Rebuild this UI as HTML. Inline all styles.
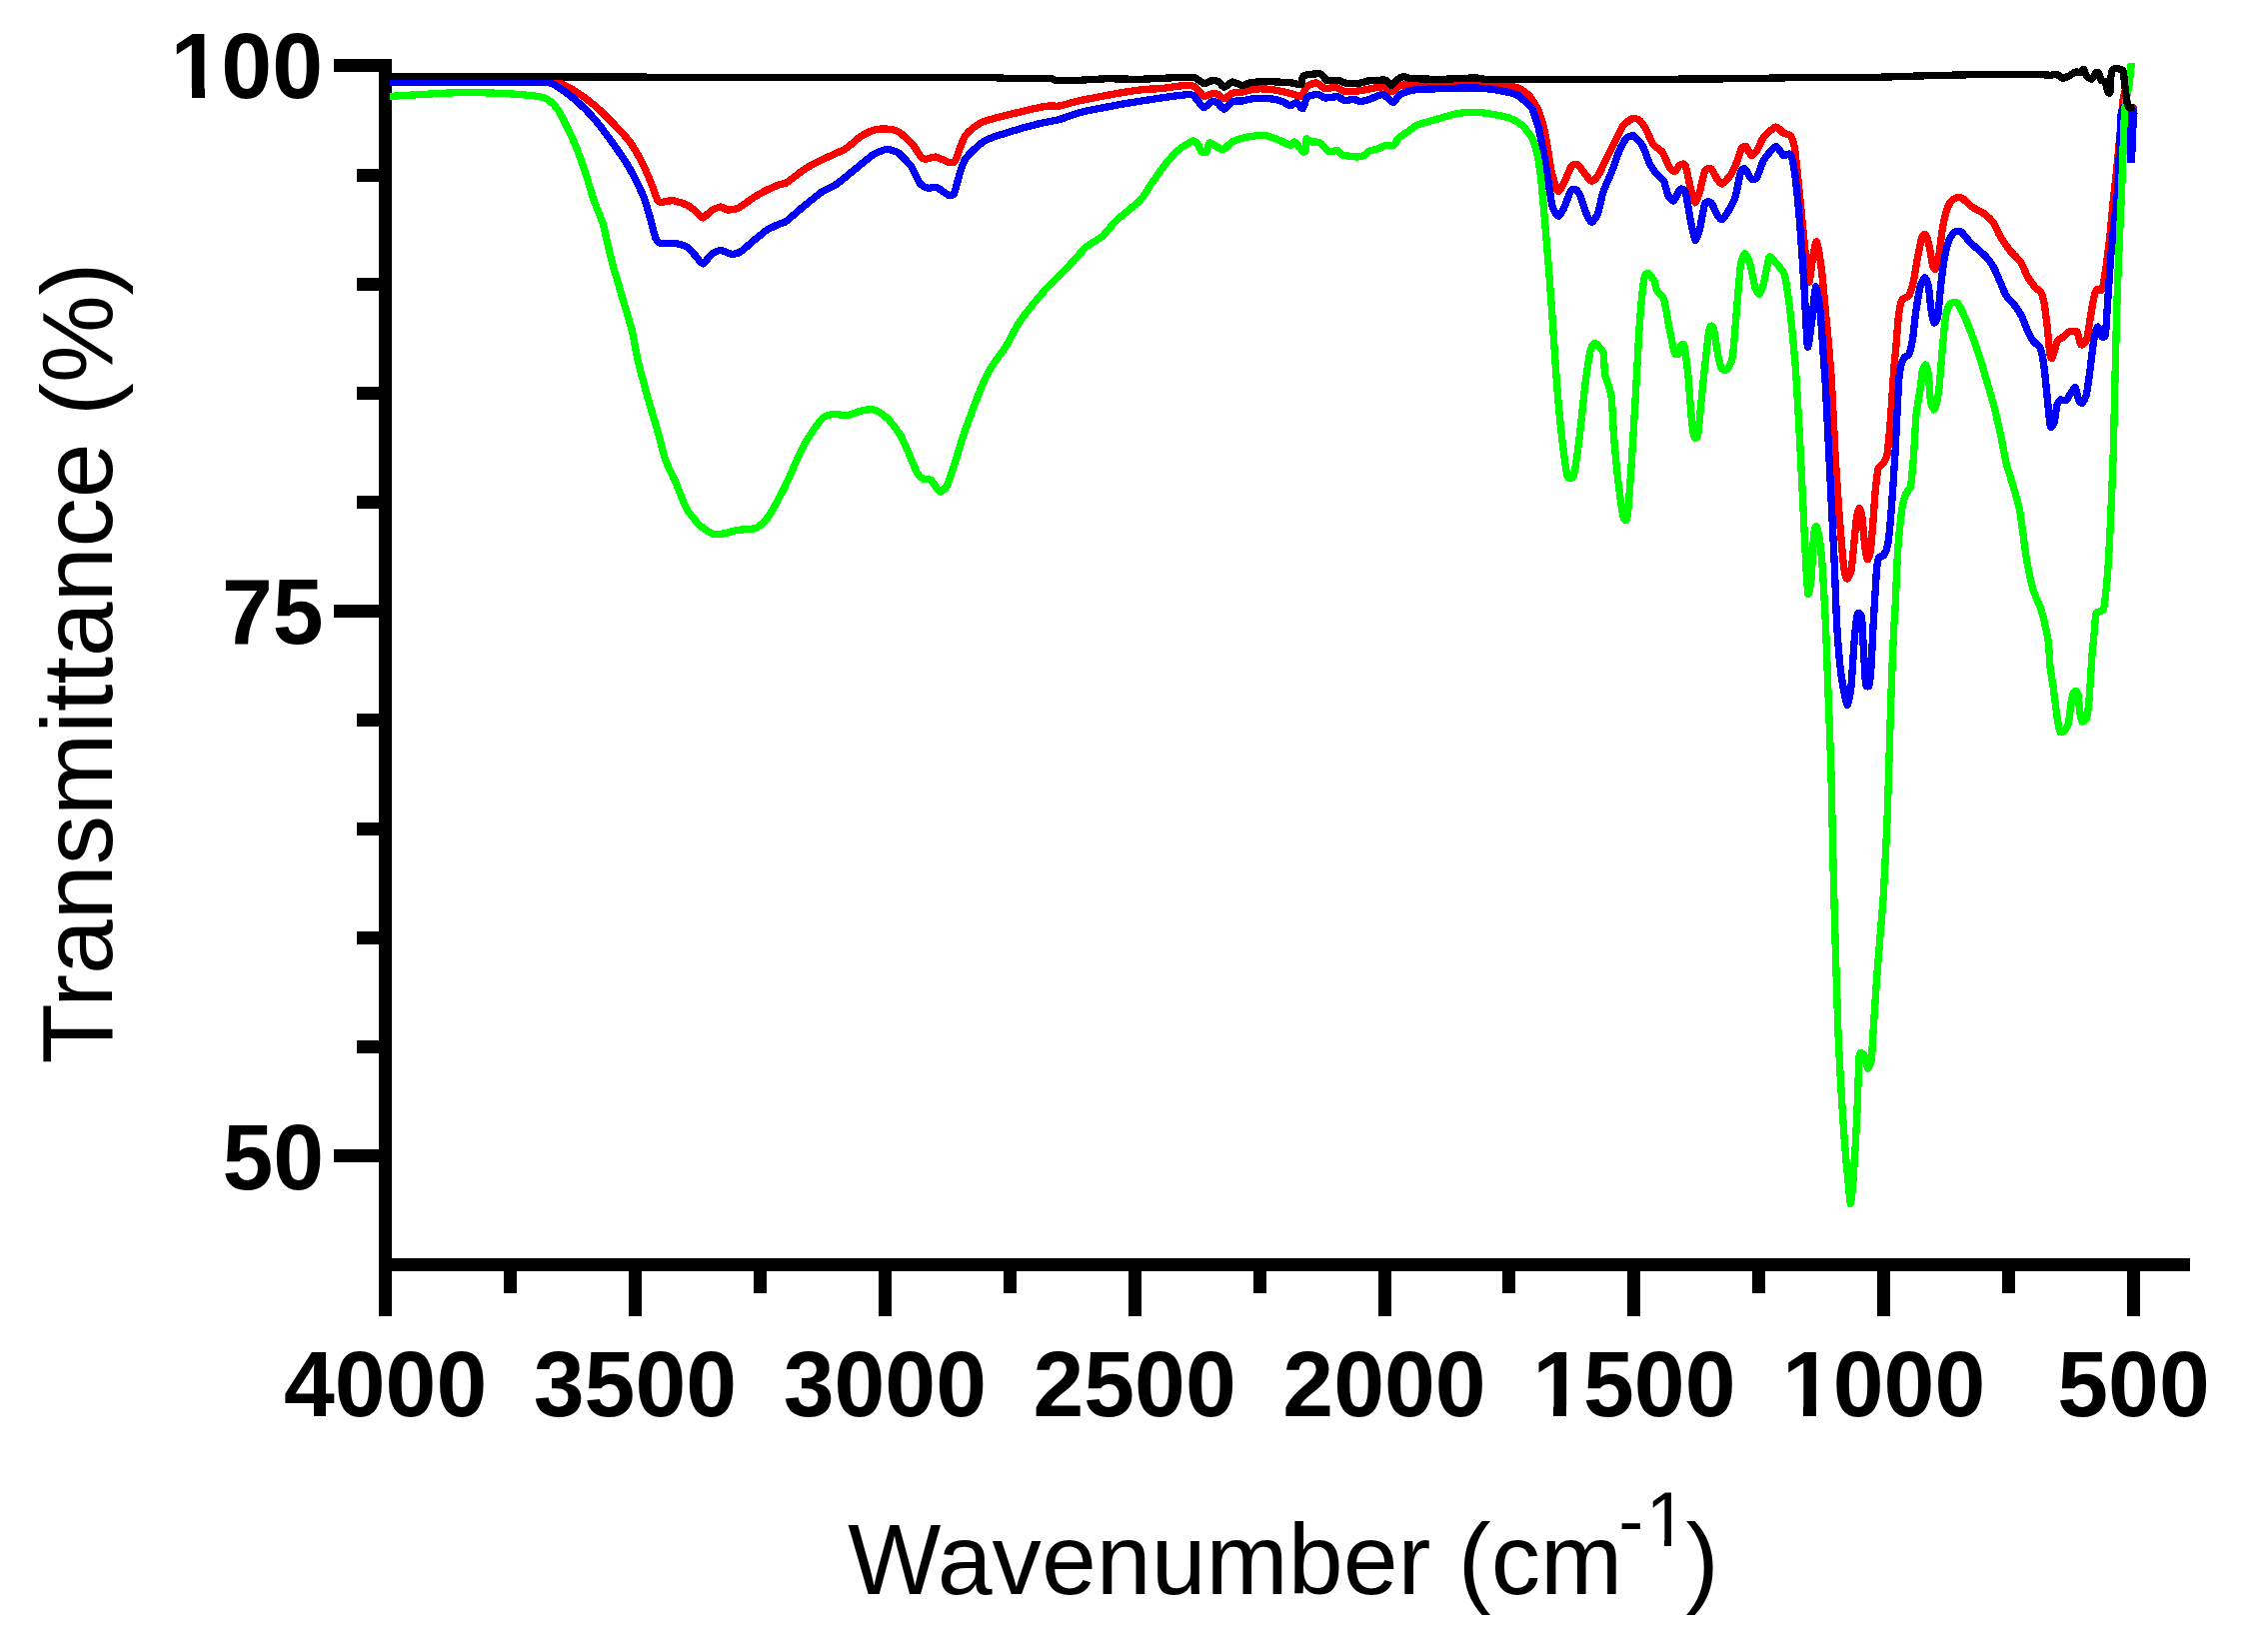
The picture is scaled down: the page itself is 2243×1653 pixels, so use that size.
<!DOCTYPE html>
<html><head><meta charset="utf-8"><title>FTIR spectra</title>
<style>
html,body{margin:0;padding:0;background:#fff;}
body{width:2243px;height:1653px;overflow:hidden;}
svg{display:block;}
text{font-family:"Liberation Sans",sans-serif;fill:#000;}
.tick{font-weight:bold;font-size:91.4px;}
.ttl{font-size:100px;}
.crv{fill:none;stroke-width:7.3;stroke-linejoin:round;stroke-linecap:butt;}
</style></head><body>
<svg width="2243" height="1653" viewBox="0 0 2243 1653" shape-rendering="crispEdges">
<rect width="2243" height="1653" fill="#fff"/>

<g fill="#000">
<rect x="379.1" y="59" width="13" height="1257.8"/>
<rect x="379.1" y="1259" width="1812" height="12.8"/>
<rect x="333.9" y="59.0" width="47" height="13"/>
<rect x="356.8" y="169.0" width="24" height="13"/>
<rect x="356.8" y="278.0" width="24" height="13"/>
<rect x="356.8" y="387.0" width="24" height="13"/>
<rect x="356.8" y="496.0" width="24" height="13"/>
<rect x="333.9" y="605.0" width="47" height="13"/>
<rect x="356.8" y="714.0" width="24" height="13"/>
<rect x="356.8" y="823.0" width="24" height="13"/>
<rect x="356.8" y="932.0" width="24" height="13"/>
<rect x="356.8" y="1041.0" width="24" height="13"/>
<rect x="333.9" y="1150.0" width="47" height="13"/>
<rect x="504.0" y="1270" width="13" height="23.8"/>
<rect x="628.9" y="1270" width="13" height="46.8"/>
<rect x="753.9" y="1270" width="13" height="23.8"/>
<rect x="878.8" y="1270" width="13" height="46.8"/>
<rect x="1003.7" y="1270" width="13" height="23.8"/>
<rect x="1128.6" y="1270" width="13" height="46.8"/>
<rect x="1253.5" y="1270" width="13" height="23.8"/>
<rect x="1378.5" y="1270" width="13" height="46.8"/>
<rect x="1503.4" y="1270" width="13" height="23.8"/>
<rect x="1628.3" y="1270" width="13" height="46.8"/>
<rect x="1753.2" y="1270" width="13" height="23.8"/>
<rect x="1878.1" y="1270" width="13" height="46.8"/>
<rect x="2003.1" y="1270" width="13" height="23.8"/>
<rect x="2128.0" y="1270" width="13" height="46.8"/>
</g>
<g shape-rendering="crispEdges">
<path class="crv" stroke="#ff0000" d="M390.0,81.0C399.0,81.0 465.0,81.0 480.0,81.0C495.0,81.0 532.8,81.0 540.0,81.0C547.2,81.0 550.1,81.4 552.0,81.5C553.9,81.6 556.2,81.3 558.6,82.3C561.0,83.3 572.8,89.5 576.4,91.8C580.0,94.1 590.7,102.0 594.3,105.0C597.9,108.0 608.4,118.3 612.0,122.0C615.6,125.7 627.0,137.7 630.0,141.8C633.0,145.9 640.4,158.9 642.5,163.0C644.6,167.1 649.9,179.3 651.4,183.0C652.9,186.7 656.7,197.9 657.7,199.8C658.7,201.8 659.8,202.4 661.3,202.5C662.8,202.6 670.3,200.4 672.9,200.7C675.5,200.9 684.7,203.9 687.0,205.0C689.3,206.1 694.4,210.1 696.0,211.4C697.6,212.7 701.6,218.1 703.2,218.0C704.8,217.9 710.2,211.6 712.0,210.5C713.8,209.4 719.4,207.1 721.0,207.0C722.6,206.9 726.2,209.9 728.0,210.0C729.8,210.1 736.3,209.3 739.0,208.0C741.7,206.7 752.1,198.8 755.0,197.0C757.9,195.2 765.0,191.2 767.5,190.0C770.0,188.8 778.1,185.3 780.0,184.6C781.9,183.9 784.3,184.4 786.8,182.9C789.3,181.4 801.4,171.7 804.6,169.5C807.8,167.3 814.9,163.5 819.0,161.4C823.1,159.3 841.6,151.4 845.7,149.0C849.8,146.6 857.1,139.2 860.0,137.3C862.9,135.4 871.6,131.0 874.3,130.2C877.0,129.4 884.3,128.8 886.8,129.0C889.3,129.2 896.6,130.4 899.3,132.0C902.0,133.6 911.5,143.0 913.6,145.4C915.7,147.8 919.5,154.6 920.7,156.0C921.9,157.4 924.5,159.2 926.0,159.3C927.5,159.4 933.7,156.7 936.0,157.0C938.3,157.3 947.3,161.9 949.3,162.3C951.2,162.7 954.4,162.7 955.5,161.4C956.6,160.1 959.0,151.5 960.0,149.0C961.0,146.5 964.0,138.6 965.4,136.4C966.8,134.2 972.3,129.0 974.3,127.5C976.3,126.0 981.4,122.5 985.0,121.2C988.6,120.0 1003.9,116.1 1010.0,114.6C1016.1,113.1 1040.7,107.3 1045.7,106.4C1050.7,105.5 1056.4,106.6 1060.0,106.0C1063.6,105.4 1075.7,101.6 1081.4,100.4C1087.1,99.2 1110.7,94.7 1117.0,93.6C1123.3,92.5 1139.6,90.1 1144.0,89.6C1148.4,89.1 1157.3,89.0 1161.4,88.6C1165.5,88.2 1181.2,85.7 1184.6,85.5C1188.0,85.3 1193.4,85.7 1195.4,86.8C1197.4,87.9 1202.5,95.6 1204.3,96.2C1206.1,96.9 1211.8,93.8 1213.2,93.6C1214.6,93.4 1217.4,94.0 1218.6,94.5C1219.8,95.0 1223.4,99.0 1224.8,98.9C1226.2,98.8 1231.1,93.9 1232.9,93.2C1234.7,92.5 1240.4,92.5 1242.7,92.1C1245.0,91.7 1253.1,89.3 1256.0,89.1C1258.9,88.8 1268.4,89.1 1272.0,89.6C1275.6,90.0 1288.8,92.9 1291.8,93.6C1294.8,94.3 1300.0,97.0 1301.6,96.2C1303.2,95.5 1306.4,87.7 1307.9,86.4C1309.4,85.1 1315.0,82.7 1316.8,82.9C1318.6,83.1 1323.7,88.2 1325.7,88.6C1327.7,89.0 1334.4,87.0 1336.4,87.3C1338.4,87.6 1343.1,91.0 1345.4,91.4C1347.7,91.8 1356.9,91.2 1359.6,90.9C1362.3,90.6 1369.5,89.0 1372.0,88.6C1374.5,88.2 1382.5,86.5 1384.6,86.8C1386.7,87.1 1391.3,91.8 1392.7,91.8C1394.1,91.8 1397.5,87.1 1399.0,86.4C1400.5,85.7 1405.2,84.8 1407.9,84.6C1410.6,84.4 1418.9,84.4 1425.7,84.3C1432.5,84.2 1467.7,83.6 1475.7,83.8C1483.7,83.9 1501.6,85.0 1506.0,85.5C1510.4,86.0 1517.5,87.4 1520.0,88.5C1522.5,89.6 1528.7,94.3 1530.7,96.6C1532.7,98.9 1538.0,107.6 1539.6,111.8C1541.2,116.0 1545.6,132.7 1546.8,138.6C1548.0,144.5 1550.8,165.4 1552.0,170.7C1553.2,176.0 1557.1,190.0 1558.4,191.2C1559.7,192.5 1563.3,185.6 1564.6,183.2C1565.9,180.8 1570.5,168.9 1571.8,167.0C1573.1,165.1 1576.6,163.8 1578.0,164.5C1579.4,165.2 1584.6,172.6 1586.0,174.3C1587.4,176.0 1591.0,181.2 1592.3,181.4C1593.6,181.6 1597.3,178.0 1598.6,176.0C1599.9,174.0 1604.1,165.0 1605.7,161.8C1607.3,158.6 1612.8,147.6 1614.6,144.0C1616.4,140.4 1621.8,128.5 1623.6,126.0C1625.4,123.5 1630.9,119.6 1632.5,119.0C1634.1,118.4 1638.2,118.7 1639.6,119.8C1641.0,120.9 1645.4,127.1 1646.8,129.6C1648.2,132.1 1652.4,142.6 1654.0,144.8C1655.6,147.0 1661.3,149.8 1662.9,152.0C1664.5,154.2 1668.8,165.0 1670.0,167.0C1671.2,169.0 1674.3,171.8 1675.4,171.6C1676.5,171.4 1679.6,165.6 1680.7,165.0C1681.8,164.4 1684.9,163.0 1686.0,165.4C1687.1,167.8 1690.4,184.8 1691.4,188.6C1692.4,192.3 1695.0,202.6 1695.9,202.9C1696.8,203.2 1699.4,195.2 1700.4,192.0C1701.4,188.8 1704.5,173.0 1705.7,170.7C1706.9,168.4 1710.8,168.1 1712.0,169.0C1713.2,169.9 1717.1,178.1 1718.2,179.6C1719.3,181.1 1721.5,184.4 1722.7,184.0C1724.0,183.6 1729.3,178.0 1730.7,176.0C1732.1,174.0 1735.8,166.4 1737.0,163.6C1738.2,160.8 1741.3,150.1 1742.3,148.4C1743.3,146.7 1745.8,145.9 1746.8,146.6C1747.8,147.3 1750.9,155.1 1752.0,155.5C1753.1,155.9 1756.2,152.9 1757.5,151.0C1758.8,149.1 1762.7,139.2 1764.6,136.8C1766.5,134.4 1774.6,127.4 1776.6,127.0C1778.6,126.6 1782.8,132.3 1784.3,133.2C1785.8,134.1 1790.3,134.3 1791.4,135.9C1792.5,137.5 1794.8,144.4 1795.6,149.3C1796.4,154.2 1798.6,176.1 1799.5,185.0C1800.4,193.9 1803.7,228.9 1804.7,238.6C1805.7,248.3 1808.7,280.5 1809.6,282.3C1810.5,284.1 1813.0,260.4 1813.8,256.4C1814.5,252.4 1816.5,241.1 1817.3,242.0C1818.1,242.9 1820.9,258.6 1821.8,265.4C1822.7,272.2 1825.5,302.0 1826.2,310.0C1827.0,318.0 1828.9,337.6 1829.5,345.0C1830.1,352.4 1831.8,372.6 1832.5,383.6C1833.2,394.6 1835.3,442.5 1836.0,455.0C1836.7,467.5 1838.9,498.8 1839.6,508.6C1840.3,518.4 1842.6,546.6 1843.2,553.2C1843.8,559.8 1845.4,572.0 1845.9,574.6C1846.4,577.2 1847.7,579.4 1848.3,579.0C1848.9,578.6 1851.3,574.5 1852.0,571.0C1852.7,567.5 1854.2,549.6 1854.8,544.3C1855.3,538.9 1857.0,521.1 1857.5,517.5C1858.0,513.9 1859.7,508.6 1860.2,508.6C1860.7,508.6 1862.4,513.9 1862.9,517.5C1863.4,521.1 1865.0,540.1 1865.5,544.3C1866.0,548.5 1867.7,558.6 1868.2,559.5C1868.8,560.4 1870.5,556.5 1871.0,553.2C1871.5,549.9 1873.1,532.6 1873.6,526.4C1874.1,520.1 1875.7,496.4 1876.2,490.7C1876.8,485.0 1878.2,472.1 1879.0,469.3C1879.8,466.5 1883.4,464.4 1884.3,463.0C1885.2,461.6 1887.2,459.4 1887.9,455.0C1888.6,450.6 1890.7,428.2 1891.4,419.3C1892.1,410.4 1894.4,373.1 1895.0,365.7C1895.6,358.3 1896.6,350.6 1897.0,345.7C1897.4,340.8 1898.7,321.6 1899.3,317.0C1899.9,312.4 1901.8,302.1 1902.9,300.0C1904.0,297.9 1908.9,297.6 1910.0,295.7C1911.1,293.8 1913.4,285.3 1914.3,281.4C1915.2,277.5 1917.7,261.4 1918.6,257.0C1919.5,252.6 1922.1,239.2 1922.9,237.0C1923.7,234.8 1925.7,234.1 1926.4,235.0C1927.1,235.9 1929.3,242.6 1930.0,245.7C1930.7,248.8 1933.0,263.3 1933.6,265.7C1934.2,268.1 1935.8,269.9 1936.4,269.3C1937.0,268.7 1938.6,263.8 1939.3,260.0C1940.0,256.2 1942.2,236.0 1942.9,231.4C1943.6,226.8 1945.6,217.2 1946.4,214.3C1947.2,211.4 1950.3,203.6 1951.4,202.0C1952.5,200.4 1955.8,198.3 1957.0,197.9C1958.2,197.5 1961.3,197.4 1962.9,198.3C1964.5,199.2 1970.6,205.4 1972.9,207.0C1975.2,208.6 1983.6,212.7 1985.7,214.3C1987.8,215.9 1992.7,220.6 1994.3,222.9C1995.9,225.2 1999.7,234.2 2001.4,237.0C2003.1,239.8 2009.4,248.9 2011.4,251.4C2013.4,253.9 2019.7,259.4 2021.4,262.0C2023.1,264.6 2027.2,274.5 2028.6,277.0C2030.0,279.5 2034.4,285.4 2035.7,287.0C2037.0,288.6 2041.1,291.3 2042.0,292.9C2042.9,294.5 2044.4,299.8 2045.0,302.9C2045.6,306.0 2047.3,319.3 2047.9,324.3C2048.5,329.3 2050.2,349.5 2050.7,352.9C2051.2,356.3 2052.4,358.9 2052.9,358.6C2053.4,358.3 2055.1,351.8 2055.7,350.0C2056.3,348.2 2057.7,342.0 2058.6,340.7C2059.5,339.4 2063.2,337.9 2064.3,337.0C2065.4,336.1 2068.6,332.5 2070.0,332.0C2071.4,331.5 2076.8,330.8 2077.9,332.0C2079.0,333.2 2080.8,343.1 2081.4,344.3C2082.0,345.5 2083.7,344.9 2084.3,344.3C2085.0,343.7 2087.2,341.3 2087.9,338.6C2088.6,335.9 2090.7,321.2 2091.4,317.0C2092.1,312.8 2094.3,299.8 2095.0,297.0C2095.7,294.2 2097.1,290.0 2097.9,289.3C2098.7,288.6 2102.1,291.5 2102.9,290.0C2103.7,288.5 2105.1,279.4 2105.9,274.3C2106.7,269.2 2109.8,245.7 2110.6,238.6C2111.4,231.5 2113.5,208.1 2114.0,202.9C2114.5,197.7 2115.3,191.3 2115.8,187.0C2116.3,182.7 2117.8,168.5 2118.6,160.0C2119.4,151.5 2123.2,108.9 2123.8,102.4C2124.4,95.9 2124.7,96.1 2125.0,95.0C2125.3,93.9 2126.1,90.4 2126.4,91.0C2126.7,91.6 2127.5,99.4 2127.9,101.0C2128.3,102.6 2129.4,106.3 2130.0,107.0C2130.6,107.7 2133.8,106.8 2134.3,107.6C2134.8,108.4 2134.9,114.2 2135.0,114.9"/>
<path class="crv" stroke="#0000ff" d="M390.0,82.0C399.0,82.0 464.4,82.0 480.0,82.0C495.6,82.0 538.1,81.8 546.0,82.3C553.9,82.8 555.6,85.5 558.6,87.3C561.6,89.1 572.8,97.6 576.4,100.7C580.0,103.8 590.7,114.5 594.3,118.6C597.9,122.7 608.4,136.8 612.0,141.8C615.6,146.8 627.0,163.4 630.0,168.6C633.0,173.8 640.5,189.0 642.5,193.6C644.5,198.2 648.3,210.5 649.6,215.0C650.9,219.5 654.7,235.3 655.9,238.2C657.1,241.1 659.4,243.1 661.3,243.6C663.2,244.1 672.0,242.9 674.6,243.2C677.2,243.5 684.9,245.7 687.0,247.0C689.1,248.3 694.4,254.3 696.0,256.0C697.6,257.7 701.6,264.2 703.2,264.0C704.8,263.8 710.2,255.7 712.0,254.3C713.8,252.9 719.0,250.4 721.0,250.4C723.0,250.4 729.8,254.1 731.8,254.3C733.8,254.5 738.4,253.4 740.7,252.0C743.0,250.6 752.3,242.2 755.0,240.0C757.7,237.8 765.0,231.6 767.5,230.0C770.0,228.4 778.1,224.9 780.0,224.0C781.9,223.1 784.3,223.1 786.8,221.2C789.3,219.4 801.0,208.9 804.6,206.0C808.2,203.1 819.3,194.0 822.5,191.8C825.7,189.6 833.4,186.6 836.8,184.3C840.2,182.0 852.6,171.6 856.4,168.6C860.1,165.6 871.2,156.2 874.3,154.3C877.4,152.4 885.2,149.4 887.7,149.3C890.2,149.2 896.9,151.7 899.3,153.4C901.7,155.2 909.7,163.8 911.8,166.8C913.9,169.8 919.0,181.6 920.7,183.8C922.4,185.9 927.1,187.8 928.8,188.2C930.4,188.6 934.7,186.6 936.8,187.3C938.9,188.0 947.5,194.8 949.3,195.4C951.1,196.0 953.5,195.7 954.6,193.6C955.7,191.5 958.9,177.4 960.0,174.0C961.1,170.6 964.0,162.0 965.4,159.6C966.8,157.2 972.2,151.8 974.3,149.8C976.4,147.8 983.2,141.8 986.8,140.0C990.4,138.2 1004.8,133.6 1010.0,132.0C1015.2,130.4 1033.6,125.2 1038.6,124.0C1043.6,122.8 1055.7,120.7 1060.0,119.5C1064.3,118.3 1075.7,113.7 1081.4,112.3C1087.1,110.9 1110.7,106.4 1117.0,105.2C1123.3,104.0 1139.6,101.4 1144.0,100.7C1148.4,100.0 1157.3,98.6 1161.4,98.0C1165.5,97.4 1181.4,95.3 1184.6,95.0C1187.8,94.7 1191.6,94.2 1193.6,95.4C1195.6,96.7 1202.4,106.9 1204.3,107.5C1206.2,108.1 1210.9,102.0 1212.3,101.6C1213.7,101.2 1217.3,102.6 1218.6,103.4C1219.8,104.2 1223.4,109.5 1224.8,109.3C1226.2,109.1 1231.1,102.4 1232.9,101.6C1234.7,100.8 1240.6,101.3 1242.7,101.0C1244.8,100.7 1251.4,98.8 1254.3,98.6C1257.2,98.4 1269.1,98.6 1272.0,98.9C1274.9,99.2 1281.0,100.9 1282.9,101.6C1284.8,102.3 1289.5,105.6 1290.9,105.7C1292.3,105.8 1295.8,102.2 1297.0,102.5C1298.2,102.8 1302.3,109.3 1303.4,108.8C1304.5,108.2 1306.4,98.4 1307.9,97.0C1309.4,95.6 1316.8,94.4 1318.6,94.5C1320.4,94.6 1323.7,97.8 1325.7,98.0C1327.7,98.2 1336.2,96.5 1338.2,96.8C1340.2,97.1 1343.8,100.5 1345.4,100.7C1347.0,101.0 1352.7,99.2 1354.3,99.3C1355.9,99.4 1359.6,101.7 1361.4,101.6C1363.2,101.5 1369.8,99.3 1372.0,98.6C1374.2,97.9 1381.6,94.1 1383.8,94.5C1385.9,94.9 1391.9,102.5 1393.6,102.5C1395.3,102.5 1398.6,95.8 1400.7,94.5C1402.8,93.2 1410.7,90.6 1415.0,90.0C1419.3,89.4 1437.5,88.8 1443.6,88.6C1449.7,88.4 1470.4,87.8 1475.7,87.9C1481.0,88.0 1492.9,89.3 1497.0,90.0C1501.1,90.7 1514.1,93.5 1516.8,94.5C1519.5,95.5 1522.4,98.6 1524.0,100.0C1525.6,101.4 1530.9,105.2 1532.5,108.2C1534.1,111.2 1538.2,123.7 1539.6,129.6C1541.0,135.5 1545.5,159.3 1546.8,167.0C1548.1,174.7 1551.8,201.5 1553.0,206.4C1554.2,211.3 1558.1,216.1 1559.3,216.2C1560.5,216.4 1563.3,210.8 1564.6,208.2C1565.8,205.6 1570.6,192.2 1571.8,190.4C1573.0,188.6 1576.0,189.3 1577.0,190.0C1578.0,190.7 1580.6,195.1 1581.6,197.5C1582.6,199.9 1585.9,211.1 1587.0,213.6C1588.1,216.1 1591.1,222.5 1592.3,222.5C1593.5,222.5 1597.4,216.7 1598.6,213.6C1599.8,210.5 1602.5,196.3 1603.9,192.0C1605.3,187.7 1611.3,174.8 1612.9,170.7C1614.5,166.6 1618.6,154.2 1620.0,151.0C1621.4,147.8 1625.6,140.1 1627.0,138.6C1628.4,137.1 1632.7,135.2 1634.3,135.9C1635.9,136.6 1641.6,142.9 1643.2,145.7C1644.8,148.5 1649.0,160.7 1650.4,163.6C1651.8,166.5 1656.1,172.5 1657.5,174.3C1658.9,176.1 1663.4,179.3 1664.6,181.4C1665.8,183.5 1668.0,193.7 1669.0,195.7C1670.0,197.7 1673.3,201.6 1674.5,201.0C1675.7,200.4 1679.5,190.4 1680.7,189.5C1681.9,188.6 1684.9,188.9 1686.0,192.0C1687.1,195.1 1690.4,215.9 1691.4,220.7C1692.4,225.5 1695.0,239.5 1695.9,240.4C1696.8,241.3 1699.4,233.3 1700.4,229.6C1701.4,225.9 1704.5,206.4 1705.7,203.8C1706.9,201.1 1710.8,201.7 1712.0,202.9C1713.2,204.1 1717.1,213.7 1718.2,215.4C1719.3,217.1 1721.5,220.3 1722.7,219.8C1723.9,219.3 1728.5,212.2 1729.8,210.0C1731.1,207.8 1734.8,201.2 1736.0,197.5C1737.2,193.8 1740.4,175.3 1741.4,172.5C1742.4,169.7 1744.8,168.4 1745.9,169.0C1747.0,169.6 1750.8,177.9 1752.0,178.8C1753.2,179.6 1756.2,179.8 1757.5,177.9C1758.8,176.0 1762.7,163.1 1764.6,160.0C1766.5,156.9 1774.6,147.0 1776.6,146.6C1778.6,146.2 1782.8,154.7 1784.3,155.5C1785.8,156.3 1790.2,152.5 1791.4,154.6C1792.6,156.7 1795.0,169.4 1795.9,176.0C1796.8,182.6 1799.5,210.0 1800.4,220.7C1801.3,231.4 1804.0,270.6 1804.8,283.2C1805.6,295.8 1807.6,343.4 1808.4,347.0C1809.2,350.6 1812.1,325.0 1812.9,319.0C1813.7,313.0 1815.6,287.7 1816.4,286.8C1817.2,285.9 1820.1,303.2 1820.9,310.0C1821.7,316.8 1823.7,347.6 1824.2,355.0C1824.7,362.4 1825.6,373.6 1826.2,383.6C1826.8,393.6 1829.1,440.7 1829.8,455.0C1830.5,469.3 1832.8,514.9 1833.4,526.4C1834.0,537.9 1835.1,559.9 1835.5,570.0C1835.9,580.1 1837.2,616.6 1837.8,627.0C1838.4,637.4 1840.8,665.9 1841.8,673.7C1842.8,681.5 1846.9,703.9 1847.9,705.2C1848.9,706.5 1851.2,693.5 1851.9,687.0C1852.6,680.5 1854.6,647.4 1855.2,640.3C1855.8,633.2 1857.4,618.9 1857.9,616.2C1858.4,613.5 1859.4,613.2 1859.9,613.5C1860.4,613.8 1862.1,614.9 1862.6,618.9C1863.1,622.9 1864.2,647.2 1864.6,653.7C1865.0,660.2 1866.1,681.2 1866.6,684.4C1867.1,687.6 1869.4,687.5 1869.9,685.8C1870.4,684.1 1871.6,672.9 1872.0,667.0C1872.4,661.1 1873.6,635.0 1874.0,627.0C1874.4,619.0 1876.1,592.5 1876.4,586.8C1876.8,581.1 1877.2,572.9 1877.5,570.0C1877.8,567.1 1879.1,559.1 1879.8,557.7C1880.5,556.3 1883.4,557.2 1884.3,555.9C1885.2,554.6 1888.0,549.0 1888.8,544.3C1889.5,539.6 1891.6,517.5 1892.3,508.6C1893.0,499.7 1895.2,467.5 1895.9,455.0C1896.6,442.5 1899.0,392.4 1899.5,383.6C1900.0,374.8 1900.9,369.6 1901.4,367.0C1902.0,364.4 1904.1,359.2 1905.0,357.9C1905.9,356.6 1909.1,356.2 1910.0,354.3C1910.9,352.4 1912.9,343.0 1913.6,338.6C1914.3,334.2 1916.2,315.3 1917.0,310.0C1917.8,304.7 1920.5,288.9 1921.4,285.7C1922.3,282.5 1924.9,277.9 1925.7,277.9C1926.5,277.9 1928.7,282.5 1929.3,285.7C1929.9,288.9 1931.4,306.3 1932.0,310.0C1932.6,313.7 1934.3,322.2 1935.0,322.9C1935.7,323.6 1938.0,320.4 1938.6,317.0C1939.2,313.6 1940.8,294.3 1941.4,288.6C1942.0,282.9 1944.1,264.9 1945.0,260.0C1945.9,255.1 1948.9,242.8 1950.0,240.0C1951.1,237.2 1954.5,232.8 1955.7,232.0C1956.9,231.2 1960.4,230.9 1962.0,232.0C1963.6,233.1 1969.0,240.5 1971.4,242.9C1973.8,245.3 1983.4,253.3 1985.7,255.7C1988.0,258.1 1992.7,264.3 1994.3,267.0C1995.9,269.7 2000.1,280.0 2001.4,282.9C2002.7,285.8 2005.6,293.4 2007.0,295.7C2008.4,298.0 2014.1,303.6 2015.7,305.7C2017.3,307.8 2021.6,314.4 2022.9,317.0C2024.2,319.6 2027.5,329.0 2028.6,331.4C2029.7,333.8 2033.0,339.7 2034.3,341.4C2035.6,343.1 2040.3,346.0 2041.4,348.6C2042.5,351.2 2044.4,362.9 2045.0,367.0C2045.6,371.1 2047.0,385.8 2047.4,390.0C2047.8,394.2 2048.9,404.9 2049.3,408.6C2049.7,412.3 2050.8,425.6 2051.4,427.0C2052.0,428.4 2054.3,425.0 2055.0,422.9C2055.7,420.8 2057.3,408.0 2057.9,405.7C2058.5,403.4 2060.5,400.5 2061.4,400.0C2062.3,399.5 2065.9,401.4 2067.0,400.7C2068.1,400.0 2071.1,394.2 2072.0,392.9C2072.9,391.6 2075.6,387.0 2076.4,387.9C2077.2,388.8 2079.3,399.9 2080.0,401.4C2080.7,402.9 2082.9,403.5 2083.6,402.9C2084.3,402.3 2086.5,397.5 2087.0,395.7C2087.5,393.9 2088.6,387.9 2089.0,385.0C2089.4,382.1 2090.8,371.6 2091.4,367.0C2092.0,362.4 2094.3,342.6 2095.0,338.6C2095.7,334.6 2097.8,327.2 2098.6,327.0C2099.4,326.8 2102.1,336.3 2102.9,337.0C2103.7,337.7 2105.8,337.7 2106.4,334.3C2107.0,330.9 2108.0,311.0 2108.6,302.9C2109.2,294.8 2111.1,262.9 2112.0,252.9C2112.9,242.9 2116.6,209.5 2117.3,202.9C2118.0,196.3 2118.4,192.6 2118.7,187.0C2119.0,181.4 2120.4,154.2 2120.7,147.0C2121.0,139.8 2121.7,118.8 2122.0,115.0C2122.3,111.2 2123.1,109.4 2123.5,108.6C2123.9,107.8 2125.8,106.9 2126.5,106.8C2127.2,106.7 2130.2,106.7 2131.0,107.2C2131.8,107.7 2133.9,109.7 2134.2,111.6C2134.5,113.5 2134.3,124.1 2134.2,126.0C2134.1,127.9 2133.4,128.7 2133.3,131.0C2133.2,133.3 2133.4,146.8 2133.3,149.0C2133.2,151.2 2132.5,151.6 2132.4,153.0C2132.3,154.4 2132.4,162.4 2132.4,163.4"/>
<path class="crv" stroke="#0000ff" d="M2131.8,111 L2131.8,163.4"/>
<path class="crv" stroke="#00ff00" d="M390.0,96.4C396.7,96.0 445.3,93.0 456.8,92.7C468.3,92.4 496.6,93.2 505.0,93.6C513.4,94.0 536.2,96.1 540.7,96.8C545.2,97.5 547.8,99.3 549.6,100.7C551.4,102.1 556.8,107.8 558.6,110.5C560.4,113.2 565.7,123.8 567.5,127.5C569.3,131.2 574.6,142.6 576.4,147.0C578.2,151.4 583.6,166.6 585.4,172.0C587.2,177.4 592.5,195.5 594.3,200.7C596.1,205.9 601.4,217.9 603.2,224.0C605.0,230.1 610.6,255.8 612.0,261.4C613.4,267.0 616.2,275.6 617.5,280.0C618.8,284.4 623.5,300.6 625.0,305.7C626.5,310.8 631.2,326.0 632.5,331.4C633.8,336.8 636.3,352.4 637.9,359.3C639.5,366.2 646.7,393.1 648.6,400.0C650.5,406.9 655.3,421.9 657.0,427.9C658.7,433.9 663.8,454.4 665.7,460.0C667.6,465.6 674.3,478.7 676.4,483.6C678.5,488.5 684.6,505.1 687.0,509.3C689.4,513.5 697.4,522.9 700.0,525.4C702.6,527.9 710.5,533.1 712.9,534.0C715.3,534.9 721.0,534.4 723.6,534.0C726.2,533.6 735.4,530.8 738.6,530.3C741.8,529.8 752.9,529.6 755.7,528.6C758.5,527.6 764.3,522.6 766.4,520.0C768.5,517.4 774.9,506.8 777.0,502.9C779.1,499.0 786.0,485.5 787.9,481.4C789.8,477.3 794.5,466.1 796.4,462.0C798.3,457.9 804.4,445.0 807.0,440.7C809.6,436.4 819.4,421.9 822.0,419.3C824.6,416.7 830.3,415.0 832.9,414.6C835.5,414.2 844.9,415.8 847.9,415.4C850.9,415.0 860.1,411.2 862.9,410.7C865.7,410.2 873.1,409.4 875.7,410.3C878.3,411.2 886.0,416.7 888.6,419.3C891.2,421.9 899.3,432.8 901.4,436.4C903.5,440.0 908.4,452.1 910.0,455.7C911.6,459.3 916.1,470.5 917.5,472.9C918.9,475.3 922.5,478.6 923.9,479.3C925.3,480.1 930.1,479.5 931.4,480.4C932.7,481.3 935.8,486.7 936.8,487.9C937.8,489.1 939.9,492.2 941.0,492.0C942.1,491.8 946.1,488.5 947.5,485.7C948.9,482.9 953.4,469.2 955.0,464.3C956.6,459.4 961.9,441.5 963.6,436.4C965.3,431.3 970.1,418.0 972.0,412.9C973.9,407.8 981.0,389.5 982.9,385.0C984.8,380.5 989.0,371.8 991.4,367.9C993.8,364.0 1003.8,350.5 1006.4,346.4C1009.0,342.3 1014.9,330.5 1017.0,327.0C1019.1,323.5 1025.0,315.1 1027.9,311.4C1030.8,307.7 1042.0,294.1 1045.7,290.0C1049.5,285.9 1061.3,274.7 1065.4,270.4C1069.5,266.1 1083.0,250.4 1086.8,247.0C1090.5,243.6 1099.9,239.1 1102.9,236.4C1105.9,233.7 1113.2,224.0 1117.0,220.4C1120.8,216.8 1136.9,204.4 1140.4,200.7C1144.0,196.9 1149.9,186.7 1152.5,182.9C1155.1,179.2 1164.1,166.5 1166.8,163.2C1169.5,159.9 1176.6,152.0 1179.3,149.8C1182.0,147.6 1191.6,141.3 1193.6,140.9C1195.6,140.5 1198.2,144.3 1199.0,145.4C1199.8,146.5 1200.8,150.9 1201.6,151.6C1202.4,152.3 1206.1,153.4 1207.0,152.5C1207.9,151.6 1208.9,143.0 1210.5,142.7C1212.1,142.4 1220.8,149.9 1223.0,149.8C1225.2,149.7 1230.5,143.1 1232.9,141.8C1235.3,140.6 1243.8,137.9 1247.0,137.3C1250.2,136.7 1261.8,135.2 1265.0,135.5C1268.2,135.8 1276.7,139.0 1279.3,140.0C1281.9,141.0 1289.3,145.2 1290.9,145.4C1292.5,145.6 1294.2,141.4 1295.4,142.0C1296.7,142.6 1302.3,150.7 1303.4,151.6C1304.5,152.5 1306.0,152.0 1306.4,150.7C1306.8,149.4 1306.5,139.9 1307.0,139.0C1307.5,138.1 1310.1,141.4 1311.4,141.8C1312.7,142.2 1318.6,141.7 1320.4,142.7C1322.2,143.7 1327.5,150.8 1329.3,151.6C1331.1,152.4 1336.8,150.3 1338.2,150.7C1339.6,151.1 1341.6,154.6 1343.6,155.2C1345.6,155.8 1355.8,157.0 1357.9,157.0C1360.0,157.0 1363.8,155.8 1365.0,155.2C1366.2,154.6 1369.2,151.3 1370.4,150.7C1371.7,150.1 1375.9,149.8 1377.5,149.3C1379.1,148.8 1384.7,145.8 1386.4,145.4C1388.1,145.0 1393.2,146.1 1394.5,145.4C1395.8,144.7 1397.7,139.5 1399.0,138.2C1400.3,136.9 1405.9,133.3 1407.9,132.0C1409.9,130.7 1415.4,126.1 1418.6,124.8C1421.8,123.5 1436.1,119.7 1440.0,118.6C1443.9,117.5 1454.2,114.2 1457.9,113.6C1461.7,113.0 1473.6,112.2 1477.5,112.3C1481.4,112.4 1493.6,114.4 1497.0,115.0C1500.4,115.6 1508.8,117.5 1511.4,118.6C1514.0,119.7 1520.9,123.7 1523.0,125.7C1525.1,127.7 1531.2,135.0 1532.8,138.2C1534.4,141.4 1537.6,152.9 1538.6,157.9C1539.6,162.9 1541.8,180.1 1542.6,188.2C1543.4,196.3 1546.1,228.2 1547.0,238.6C1547.9,249.0 1550.5,281.9 1551.2,292.0C1552.0,302.1 1553.9,330.8 1554.5,340.0C1555.1,349.2 1556.7,373.5 1557.5,383.6C1558.3,393.7 1561.8,431.4 1562.9,440.7C1564.0,450.0 1567.0,472.9 1568.2,476.4C1569.4,479.9 1573.3,479.1 1574.5,475.5C1575.7,471.9 1578.6,449.9 1579.8,440.7C1581.0,431.5 1584.8,392.7 1586.0,383.6C1587.2,374.5 1590.4,353.6 1591.4,349.6C1592.4,345.6 1594.6,343.0 1595.9,343.4C1597.2,343.8 1603.0,350.1 1604.0,353.2C1605.0,356.3 1604.9,370.3 1605.7,374.6C1606.5,378.9 1611.1,389.8 1612.0,396.0C1612.9,402.2 1613.8,427.5 1614.6,437.0C1615.4,446.5 1619.0,482.6 1620.0,490.7C1621.0,498.8 1623.7,515.7 1624.5,518.4C1625.3,521.1 1627.3,522.0 1628.0,517.5C1628.7,513.0 1630.8,484.5 1631.6,472.9C1632.4,461.3 1635.2,415.2 1636.0,401.4C1636.8,387.6 1639.1,344.1 1639.6,335.0C1640.1,325.9 1640.9,315.7 1641.4,310.0C1641.9,304.3 1644.3,281.6 1645.0,277.9C1645.7,274.2 1647.6,273.1 1648.6,273.4C1649.6,273.7 1653.9,278.8 1654.8,280.5C1655.7,282.2 1656.5,288.5 1657.5,290.4C1658.5,292.3 1663.3,295.5 1664.6,299.3C1665.8,303.1 1668.9,322.6 1670.0,328.0C1671.1,333.4 1674.4,350.6 1675.4,353.2C1676.4,355.8 1679.2,354.7 1679.8,354.0C1680.4,353.3 1681.1,346.8 1681.6,346.0C1682.1,345.2 1684.3,343.1 1685.0,346.0C1685.7,348.9 1688.0,367.3 1688.8,374.6C1689.5,381.9 1691.7,413.1 1692.3,419.3C1692.9,425.5 1694.4,435.4 1695.0,437.0C1695.6,438.6 1697.9,439.0 1698.6,435.4C1699.3,431.8 1701.2,409.3 1702.0,401.4C1702.8,393.5 1705.8,363.9 1706.6,356.8C1707.4,349.7 1709.4,333.1 1710.0,330.0C1710.6,326.9 1711.8,326.0 1712.3,326.0C1712.8,326.0 1713.9,326.9 1714.6,330.0C1715.3,333.1 1718.2,352.9 1719.0,356.8C1719.8,360.7 1721.8,368.1 1722.7,369.3C1723.6,370.6 1726.9,370.6 1728.0,369.3C1729.1,368.1 1732.5,362.2 1733.4,356.8C1734.3,351.4 1736.2,324.1 1737.0,315.0C1737.8,305.9 1740.5,271.5 1741.4,265.4C1742.3,259.3 1744.9,253.8 1745.9,253.8C1746.9,253.8 1750.3,262.1 1751.2,265.4C1752.2,268.7 1754.8,283.9 1755.7,286.8C1756.6,289.7 1759.3,295.2 1760.2,294.8C1761.1,294.4 1763.6,286.9 1764.6,283.2C1765.6,279.4 1768.8,259.3 1770.0,257.3C1771.2,255.3 1775.5,261.9 1777.0,263.6C1778.5,265.3 1783.9,270.6 1785.2,274.3C1786.5,278.0 1788.8,295.3 1789.6,301.0C1790.4,306.7 1792.3,323.6 1793.0,331.0C1793.7,338.4 1796.1,364.0 1796.8,374.6C1797.5,385.2 1799.7,423.6 1800.4,437.0C1801.1,450.4 1803.4,496.1 1804.0,508.6C1804.6,521.1 1806.1,553.4 1806.6,562.0C1807.1,570.6 1808.3,592.5 1808.8,594.3C1809.3,596.1 1811.4,585.9 1812.0,580.0C1812.6,574.1 1814.1,540.8 1814.6,535.4C1815.1,530.0 1816.7,525.5 1817.3,526.4C1817.9,527.3 1820.3,538.9 1821.0,544.3C1821.7,549.7 1823.5,571.7 1824.0,580.0C1824.5,588.3 1826.0,615.6 1826.5,627.0C1827.0,638.4 1828.5,679.0 1829.0,693.8C1829.5,708.6 1831.5,755.8 1832.0,775.0C1832.5,794.2 1833.8,860.6 1834.5,886.2C1835.2,911.9 1837.9,1006.8 1838.9,1031.5C1839.9,1056.2 1843.7,1118.1 1844.7,1133.2C1845.7,1148.3 1848.3,1175.5 1849.0,1182.6C1849.7,1189.7 1850.9,1205.1 1851.4,1204.5C1851.9,1203.9 1853.7,1185.4 1854.3,1176.8C1854.9,1168.2 1857.2,1130.3 1857.7,1118.7C1858.2,1107.1 1859.5,1067.1 1859.8,1060.6C1860.1,1054.1 1860.7,1053.8 1861.2,1053.3C1861.7,1052.8 1864.3,1054.4 1865.0,1056.0C1865.7,1057.6 1867.8,1068.5 1868.5,1069.0C1869.2,1069.5 1871.8,1063.8 1872.3,1060.6C1872.8,1057.4 1873.1,1046.0 1873.7,1037.3C1874.3,1028.6 1877.0,987.1 1878.0,973.4C1879.0,959.7 1882.9,915.2 1883.9,900.7C1884.9,886.2 1887.1,840.6 1887.7,828.0C1888.3,815.4 1889.1,788.4 1889.5,775.0C1889.9,761.6 1891.5,708.6 1892.0,693.8C1892.5,679.0 1894.3,634.8 1894.7,627.0C1895.1,619.2 1895.3,623.6 1895.7,616.0C1896.1,608.4 1897.9,562.1 1898.6,551.4C1899.3,540.7 1902.1,514.3 1902.9,508.6C1903.7,502.9 1905.6,496.5 1906.4,494.3C1907.2,492.1 1910.6,490.6 1911.4,487.0C1912.2,483.4 1913.7,465.7 1914.3,458.6C1914.9,451.5 1916.3,422.9 1917.0,415.7C1917.7,408.5 1920.8,391.4 1921.4,387.0C1922.0,382.6 1922.7,373.6 1923.2,371.4C1923.7,369.2 1925.8,364.7 1926.4,365.0C1927.0,365.3 1928.8,370.7 1929.3,374.3C1929.8,377.9 1930.8,397.8 1931.4,401.4C1932.0,405.0 1934.3,410.0 1935.0,410.0C1935.7,410.0 1937.4,403.9 1937.9,401.4C1938.4,398.9 1939.8,389.9 1940.3,385.0C1940.8,380.1 1942.3,359.7 1942.9,352.9C1943.5,346.1 1945.6,321.9 1946.4,317.0C1947.2,312.1 1949.5,305.7 1950.7,304.3C1951.9,302.9 1956.5,301.9 1957.9,302.9C1959.3,303.9 1963.0,311.4 1964.3,314.3C1965.6,317.2 1969.8,327.3 1971.4,331.4C1973.0,335.5 1978.4,350.9 1980.0,355.7C1981.6,360.5 1985.6,374.1 1987.0,379.0C1988.4,383.9 1992.9,398.8 1994.3,404.3C1995.7,409.8 2000.1,428.4 2001.4,434.3C2002.7,440.2 2005.7,457.6 2007.0,462.9C2008.3,468.2 2012.9,482.1 2014.3,487.0C2015.7,491.9 2019.7,506.4 2020.7,511.4C2021.7,516.4 2023.6,531.8 2024.3,537.0C2025.0,542.2 2027.0,557.7 2028.0,563.0C2029.0,568.3 2032.7,585.5 2034.0,590.0C2035.3,594.5 2040.2,604.8 2041.4,608.2C2042.6,611.6 2044.9,620.8 2045.7,624.3C2046.5,627.8 2049.0,639.3 2049.5,643.6C2050.0,647.9 2050.5,662.5 2051.0,667.0C2051.5,671.5 2053.7,684.3 2054.3,688.6C2054.9,692.9 2056.5,706.2 2057.0,710.0C2057.5,713.8 2059.2,724.8 2059.6,727.0C2060.0,729.2 2060.7,732.1 2061.2,732.5C2061.8,732.9 2064.7,732.2 2065.5,731.4C2066.3,730.5 2068.7,726.4 2069.3,724.0C2069.9,721.6 2071.0,710.8 2071.4,707.9C2071.8,705.0 2073.1,696.7 2073.6,695.0C2074.1,693.3 2075.7,691.2 2076.2,691.2C2076.8,691.2 2078.6,693.1 2079.0,695.0C2079.4,696.9 2080.1,707.3 2080.5,710.0C2080.9,712.7 2082.0,720.9 2082.7,721.8C2083.4,722.7 2086.8,720.3 2087.5,718.6C2088.2,716.9 2089.2,708.1 2089.6,704.6C2090.0,701.1 2090.9,688.0 2091.2,683.2C2091.6,678.4 2092.5,661.8 2092.9,656.4C2093.3,651.0 2095.1,633.9 2095.5,629.6C2095.9,625.3 2096.2,615.5 2097.0,613.6C2097.8,611.7 2103.1,612.0 2104.0,610.4C2104.9,608.8 2105.9,600.4 2106.2,597.5C2106.6,594.6 2107.6,585.1 2107.9,581.4C2108.2,577.6 2109.2,565.9 2109.5,560.0C2109.8,554.1 2110.9,533.8 2111.4,522.9C2111.9,512.0 2113.9,464.7 2114.3,451.4C2114.7,438.1 2115.3,404.9 2115.7,390.0C2116.1,375.1 2117.4,318.8 2117.9,302.9C2118.4,287.0 2120.2,243.0 2120.7,231.4C2121.2,219.8 2122.2,199.0 2122.7,187.0C2123.2,175.0 2124.9,121.6 2125.6,111.4C2126.3,101.2 2129.3,89.4 2130.0,84.6C2130.7,79.8 2132.1,65.3 2132.3,63.2"/>
<path class="crv" stroke="#000000" d="M390.0,76.4C401.0,76.4 479.0,76.5 500.0,76.6C521.0,76.7 572.0,76.9 600.0,77.0C628.0,77.1 740.8,77.5 780.0,77.5C819.2,77.5 970.0,77.2 992.0,77.3C1014.0,77.4 994.2,78.3 1000.0,78.4C1005.8,78.5 1044.3,78.2 1050.0,78.4C1055.7,78.6 1053.9,80.5 1057.0,80.7C1060.1,80.9 1075.9,80.4 1081.0,80.2C1086.1,80.0 1102.1,78.8 1108.0,78.8C1113.9,78.7 1132.7,79.4 1140.0,79.3C1147.3,79.2 1175.5,77.6 1181.0,77.5C1186.5,77.4 1193.0,77.3 1195.4,77.9C1197.8,78.5 1203.4,83.4 1205.0,83.8C1206.6,84.1 1210.0,81.2 1211.4,81.0C1212.8,80.8 1217.3,80.8 1218.6,81.4C1219.9,82.0 1223.4,87.2 1224.8,87.3C1226.2,87.4 1231.1,82.2 1232.9,82.0C1234.7,81.8 1240.9,85.4 1242.7,85.5C1244.5,85.6 1248.5,83.3 1250.7,82.9C1252.9,82.5 1260.9,81.6 1265.0,81.6C1269.1,81.6 1288.1,82.6 1291.8,82.9C1295.5,83.2 1300.3,85.3 1301.6,84.6C1302.8,83.9 1302.3,76.8 1304.3,75.7C1306.3,74.6 1318.9,73.4 1321.2,73.9C1323.6,74.4 1325.8,80.1 1327.5,80.7C1329.2,81.3 1336.4,80.0 1338.2,80.2C1340.0,80.4 1343.4,82.5 1345.4,82.9C1347.4,83.3 1355.6,83.9 1357.9,83.8C1360.2,83.6 1365.8,81.4 1368.6,81.0C1371.4,80.6 1384.1,79.8 1386.4,80.2C1388.7,80.7 1390.7,85.5 1391.8,85.5C1392.9,85.5 1395.8,81.1 1397.0,80.2C1398.2,79.3 1402.9,76.8 1404.3,76.6C1405.7,76.4 1407.5,78.1 1411.4,78.4C1415.3,78.7 1437.2,79.3 1443.6,79.3C1450.0,79.2 1471.4,77.9 1475.7,77.9C1480.0,77.9 1480.0,79.1 1486.4,79.3C1492.8,79.5 1528.6,79.6 1540.0,79.6C1551.4,79.6 1580.6,79.7 1600.0,79.6C1619.4,79.5 1714.0,79.0 1734.0,78.8C1754.0,78.5 1785.4,77.8 1800.0,77.6C1814.6,77.4 1868.0,77.4 1880.0,77.2C1892.0,77.0 1911.0,76.2 1920.0,76.0C1929.0,75.8 1959.5,74.9 1970.0,74.8C1980.5,74.7 2018.0,74.8 2025.0,74.8C2032.0,74.8 2037.3,74.6 2040.0,74.6C2042.7,74.6 2049.8,75.2 2051.6,75.2C2053.4,75.2 2056.6,74.0 2057.8,74.3C2059.0,74.6 2062.3,78.3 2063.6,78.4C2064.8,78.5 2069.0,76.3 2070.3,75.7C2071.6,75.1 2075.5,72.3 2076.6,72.0C2077.7,71.7 2080.2,72.9 2081.0,72.6C2081.8,72.3 2084.0,69.1 2084.6,69.4C2085.2,69.7 2086.5,74.7 2087.3,75.7C2088.1,76.7 2091.6,79.6 2092.6,79.2C2093.6,78.9 2096.3,73.2 2097.0,72.6C2097.7,72.0 2099.3,72.2 2099.8,73.0C2100.3,73.8 2101.8,79.7 2102.4,80.6C2103.0,81.5 2105.4,80.8 2106.0,81.9C2106.6,83.0 2108.2,90.6 2108.7,91.7C2109.2,92.8 2110.6,94.0 2110.9,92.6C2111.2,91.2 2111.5,79.8 2111.8,77.5C2112.1,75.2 2113.2,70.2 2114.0,69.4C2114.8,68.6 2119.3,68.8 2120.3,69.0C2121.3,69.2 2123.8,69.6 2124.3,71.2C2124.8,72.8 2125.2,81.5 2125.6,84.6C2126.0,87.7 2127.5,100.1 2127.9,102.4C2128.3,104.7 2129.3,106.9 2130.0,107.4C2130.7,107.9 2134.1,107.4 2134.6,107.4"/>
</g>
<g class="tick" text-anchor="end">
<text transform="translate(323.0,97.6) scale(1,1.02)">100</text>
<text transform="translate(323.7,643.7) scale(1,1.02)">75</text>
<text transform="translate(324.1,1189.5) scale(1,1.02)">50</text>
</g>
<g class="tick" text-anchor="middle">
<text transform="translate(385.6,1417.2) scale(1,1.02)">4000</text>
<text transform="translate(635.4,1417.2) scale(1,1.02)">3500</text>
<text transform="translate(885.3,1417.2) scale(1,1.02)">3000</text>
<text transform="translate(1135.1,1417.2) scale(1,1.02)">2500</text>
<text transform="translate(1385.0,1417.2) scale(1,1.02)">2000</text>
<text transform="translate(1634.8,1417.2) scale(1,1.02)">1500</text>
<text transform="translate(1884.6,1417.2) scale(1,1.02)">1000</text>
<text transform="translate(2134.5,1417.2) scale(1,1.02)">500</text>
</g>
<text class="ttl" transform="translate(848.2,1595) scale(0.987,1)">Wavenumber (cm</text>
<text x="1619.2" y="1547" font-size="75">-</text>
<text transform="translate(1646.5,1547) scale(1,1.03)" font-size="75">1</text>
<text class="ttl" x="1686.5" y="1595">)</text>
<text class="ttl" text-anchor="middle" transform="translate(112.3,663.5) rotate(-90) scale(0.9863,1)">Transmittance (%)</text>
<g fill="#fff">
<rect x="174" y="88" width="18" height="12"/>
<rect x="205" y="88" width="16" height="12"/>
<rect x="1537" y="1407" width="17" height="12"/>
<rect x="1567" y="1407" width="18" height="12"/>
<rect x="1787" y="1407" width="17" height="12"/>
<rect x="1817" y="1407" width="17" height="12"/>
<rect x="1650" y="1541" width="15" height="8"/>
<rect x="1672" y="1541" width="14.5" height="8"/>
</g>
</svg></body></html>
